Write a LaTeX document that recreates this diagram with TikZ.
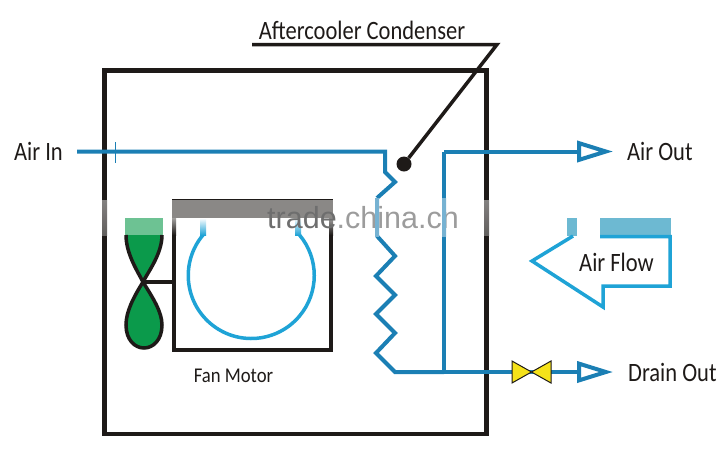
\documentclass[tikz,border=0pt]{standalone}
\usepackage{fontspec}
\setmainfont{Carlito}
\newfontfamily\markfont{Liberation Sans}
\usetikzlibrary{arrows.meta, calc}
\definecolor{pipeblue}{HTML}{1B7FB4}
\definecolor{skyblue}{HTML}{1FA3D6}
\definecolor{bandblue}{HTML}{6DB9D2}
\definecolor{fangreen}{HTML}{0B9A4B}
\definecolor{valveyellow}{HTML}{F5E21A}
\definecolor{dkblack}{HTML}{1E1A18}
\definecolor{bargray}{HTML}{8A8886}
\definecolor{markdark}{HTML}{6E6E6E}
\definecolor{marklight}{HTML}{9C9C9C}

\begin{document}
\begin{tikzpicture}[
  x=1pt, y=-1pt,
  wall/.style={dkblack, line width=4.5pt, line cap=rect},
  motorbox/.style={dkblack, line width=4pt},
  pipe/.style={pipeblue, line width=4pt, line join=miter},
  outlet/.style={pipe, -{Triangle[open, length=36pt, width=21pt, fill=white, line width=4pt]}},
  lbl/.style={dkblack, font=\fontsize{26.5}{26.5}\selectfont, inner sep=0pt, xscale=0.85},
  smalllbl/.style={dkblack, font=\fontsize{21}{21}\selectfont, inner sep=0pt, xscale=0.89},
]
\useasboundingbox (0,0) rectangle (727,456);

% ══════════════════════════════════════════════════════
% Housing
% ══════════════════════════════════════════════════════
\draw[wall] (104.5,200) -- (104.5,70.5) -- (486.5,70.5) -- (486.5,200);
\draw[wall] (104.5,235) -- (104.5,434) -- (486.5,434) -- (486.5,235);
\foreach \px in {104.5,486.5}{
  \shade[top color=dkblack!55, middle color=white, bottom color=dkblack!70]
    (\px-2.5,200) rectangle (\px+2.5,235);
}

% ══════════════════════════════════════════════════════
% Fan motor
% ══════════════════════════════════════════════════════
\fill[bargray] (172,199) rectangle (333,218);
\draw[dkblack, line width=1pt] (172,199) -- (333,199);
\draw[motorbox] (174,235) -- (174,350) -- (331,350) -- (331,235);
\foreach \px in {174,331}{
  \shade[top color=bargray!80, bottom color=dkblack] (\px-2,218) rectangle (\px+2,235);
}

% Rotor
\draw[skyblue, line width=3.5pt] (203,235) arc[start angle=140, end angle=400, radius=63pt];
\foreach \px in {203,298}{
  \shade[top color=white, bottom color=skyblue] (\px-3,218) rectangle (\px+3,235);
}

% Fan blades
\coordinate (hub) at (143,282);
\fill[fangreen!60!white] (125,218) rectangle (163,235);
\filldraw[fill=fangreen, draw=dkblack, line width=3.5pt]
  (126,235) .. controls (126,254) and (138,272) .. (hub)
  .. controls (148,272) and (162,254) .. (162,235);
\filldraw[fill=fangreen, draw=dkblack, line width=3.5pt]
  (hub) .. controls (133,298) and (126,312) .. (126,325)
  .. controls (126,340) and (135,348) .. (144,348)
  .. controls (153,348) and (162,340) .. (162,325)
  .. controls (162,312) and (153,298) .. (hub) -- cycle;
\draw[dkblack, line width=3.5pt] (hub) -- (174,282);

% ══════════════════════════════════════════════════════
% Labels
% ══════════════════════════════════════════════════════
\node[lbl, anchor=west] (airin) at (14,151) {Air In};
\node[lbl, anchor=west] (airout) at (627,151) {Air Out};
\node[lbl, anchor=west] (drainout) at (628,372) {Drain Out};
\node[lbl, anchor=center] (airflow) at (616.5,262) {Air Flow};
\node[lbl, anchor=center] (condenser) at (362,30) {Aftercooler Condenser};
\node[smalllbl, anchor=center] (fanmotor) at (233.5,376) {Fan Motor};

% Watermark
\node[font=\markfont\fontsize{30.5}{30.5}\selectfont, inner sep=0pt, anchor=base] (watermark)
  at (363,228) {\textcolor{markdark}{trade}\textcolor{marklight}{.china.cn}};

% ══════════════════════════════════════════════════════
% Coil and pipes
% ══════════════════════════════════════════════════════
\coordinate (inlet) at (77,151.5);
\coordinate (airend) at (613,151.5);
\coordinate (drainend) at (613,372);
\coordinate (junction) at (444,372);
\coordinate (riser) at (444,151.5);

\draw[pipe] (inlet) -- (385,151.5) -- (385,172) -- (395,182) -- (377,198);
\draw[pipe] (377,236) -- (395,256) -- (376,276) -- (395,295) -- (376,314)
  -- (395,333) -- (376,353) -- (395,372) -- (junction);
\draw[pipe] (junction) -- (444,235);
\draw[pipe] (444,200) -- (riser);
\draw[outlet] (riser) -- (airend);
\draw[outlet] (junction) -- (drainend);
\draw[pipeblue, line width=0.5pt] (115.5,142) -- (115.5,163);
\foreach \px in {377,444}{
  \shade[top color=pipeblue!60, middle color=white, bottom color=pipeblue!60]
    (\px-2,198) rectangle (\px+2,236);
}

% Valve
\filldraw[fill=valveyellow, draw=dkblack, line width=1pt, line join=miter]
  (512,361) -- (551,383) -- (551,361) -- (512,383) -- cycle;

% ══════════════════════════════════════════════════════
% Air flow arrow
% ══════════════════════════════════════════════════════
\fill[bandblue] (600,218) rectangle (671,236);
\fill[bandblue] (567,218) rectangle (577,236);
\draw[skyblue, line width=3.5pt, line join=miter]
  (573,236) -- (532,261) -- (603,307) -- (603,286) -- (670,286) -- (670,236.5) -- (600,236.5);

% ══════════════════════════════════════════════════════
% Leader to the condenser
% ══════════════════════════════════════════════════════
\coordinate (leaderstart) at (252,44.5);
\coordinate (leaderbend) at (497,44.5);
\node[circle, fill=dkblack, inner sep=0pt, minimum size=15pt] (coildot) at (404,164) {};
\draw[dkblack, line width=3.5pt, line join=miter] (leaderstart) -- (leaderbend) -- (coildot);

\end{tikzpicture}
\end{document}
